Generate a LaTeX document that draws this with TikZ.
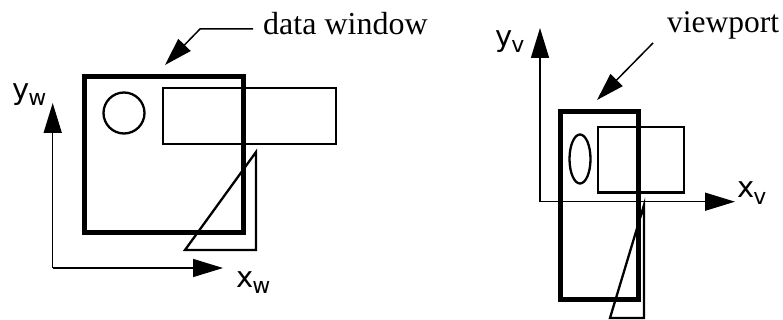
\documentclass[tikz,border=0pt]{standalone}
\usepackage{fontspec}
\setmainfont{Liberation Serif}
\newfontfamily\sansfam{DejaVu Sans}
\usetikzlibrary{arrows.meta}
\tikzset{
  axis/.style={line width=1.5pt, -{Triangle[length=30pt,width=18pt]}},
  callout/.style={line width=1.5pt, -{Triangle[length=28pt,width=17pt]}},
  frame/.style={line width=5pt},
  obj/.style={line width=2.3pt},
  axlabel/.style={anchor=base west, inner sep=0pt, font=\sansfam\fontsize{29}{29}\selectfont},
  caption/.style={anchor=base west, inner sep=0pt, font=\fontsize{31.5}{31.5}\selectfont}
}
\newcommand{\subw}[1]{\kern-1pt\raisebox{-6pt}{\fontsize{22}{22}\selectfont #1}}
\begin{document}
\begin{tikzpicture}[x=1pt,y=-1pt]
\useasboundingbox (0,0) rectangle (783,320);
% ---------- left: data window ----------
\coordinate (ow) at (52.7,268);
\coordinate (ywtip) at (52.7,103);
\coordinate (xwtip) at (223,268);
\draw[axis] (ow) -- (ywtip);
\draw[axis] (ow) -- (xwtip);
\draw[frame] (84.5,76.5) rectangle (243.5,232.5);
\draw[obj] (124,113) circle[radius=20.5];
\draw[obj] (163,88) rectangle (336,144);
\draw[obj] (256,152) -- (256,250) -- (185,250) -- cycle;
\node[axlabel] (yw) at (12,100) {y\subw{w}};
\node[axlabel] (xw) at (236,287) {x\subw{w}};
\node[caption, font=\fontsize{32}{32}\selectfont] (dw) at (263,35) {data window};
\coordinate (dwstart) at (253,29);
\coordinate (dwbend) at (200,29);
\coordinate (dwtip) at (165,65);
\draw[callout] (dwstart) -- (dwbend) -- (dwtip);
% ---------- right: viewport ----------
\coordinate (ov) at (540,201.7);
\coordinate (yvtip) at (540,28);
\coordinate (xvtip) at (735,201.7);
\draw[axis] (ov) -- (yvtip);
\draw[axis] (ov) -- (xvtip);
\draw[frame] (560,111.5) rectangle (638.5,299.5);
\draw[obj] (580,159) ellipse[x radius=10.5, y radius=24.5];
\draw[obj] (598,127) rectangle (684,192.5);
\draw[obj] (644,205) -- (644,318) -- (610,318) -- cycle;
\node[axlabel] (yv) at (495,47) {y\subw{v}};
\node[axlabel] (xv) at (737,198) {x\subw{v}};
\node[caption] (vp) at (667,33) {viewport};
\coordinate (vpstart) at (653,43);
\coordinate (vptip) at (597,100);
\draw[callout] (vpstart) -- (vptip);
\end{tikzpicture}
\end{document}
